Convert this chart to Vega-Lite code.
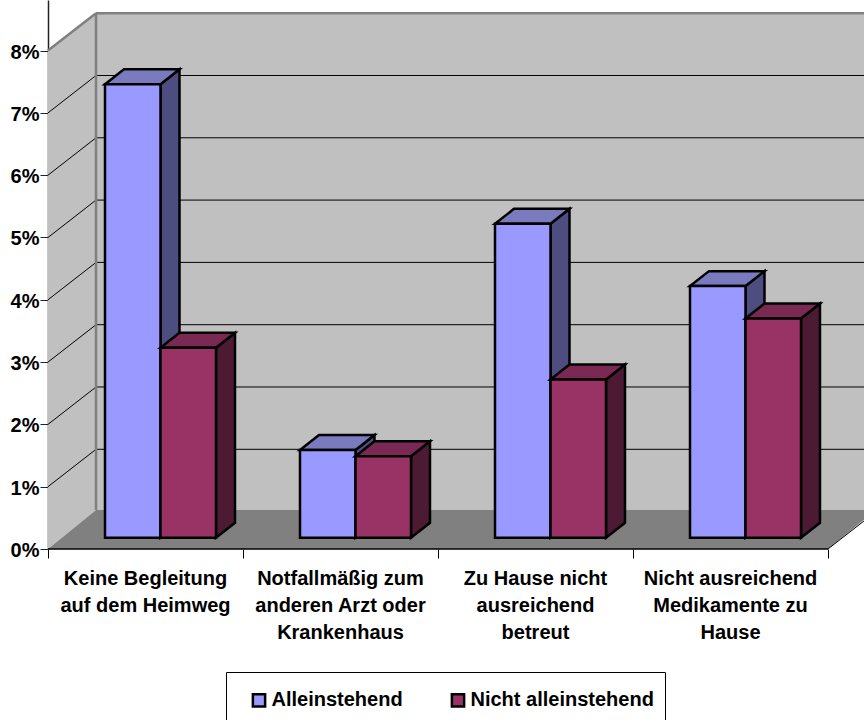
{
"$schema":"https://vega.github.io/schema/vega-lite/v6.json",
"width":816,"height":549,"autosize":"none",
"padding":{"left":48,"top":0,"right":0,"bottom":171},
"background":"white",
"config":{"view":{"stroke":null},"font":"Liberation Sans"},
"datasets":{
"bars":[
{"category":"Keine Begleitung\nauf dem Heimweg","series":"Alleinstehend","value":7.28},
{"category":"Keine Begleitung\nauf dem Heimweg","series":"Nicht alleinstehend","value":3.05},
{"category":"Notfallmäßig zum\nanderen Arzt oder\nKrankenhaus","series":"Alleinstehend","value":1.41},
{"category":"Notfallmäßig zum\nanderen Arzt oder\nKrankenhaus","series":"Nicht alleinstehend","value":1.31},
{"category":"Zu Hause nicht\nausreichend\nbetreut","series":"Alleinstehend","value":5.04},
{"category":"Zu Hause nicht\nausreichend\nbetreut","series":"Nicht alleinstehend","value":2.54},
{"category":"Nicht ausreichend\nMedikamente zu\nHause","series":"Alleinstehend","value":4.04},
{"category":"Nicht ausreichend\nMedikamente zu\nHause","series":"Nicht alleinstehend","value":3.52}
],
"ticks":[{"tick":0},{"tick":1},{"tick":2},{"tick":3},{"tick":4},{"tick":5},{"tick":6},{"tick":7},{"tick":8}],
"depth":[{"depth":0},{"depth":1}]
},
"layer":[
{"data":{"name":"depth"},
 "transform":[{"calculate":"datum.depth*0.2462","as":"wx"},{"calculate":"datum.depth*0.625","as":"wy"},{"calculate":"8+datum.depth*0.6","as":"wy2"},{"calculate":"4+datum.depth*0.2462","as":"wx2"}],
 "layer":[
 {"mark":{"type":"area","fill":"#C0C0C0","clip":true},
  "encoding":{"x":{"field":"wx","type":"quantitative","scale":{"domain":[0,4.1846],"nice":false,"zero":false},
     "axis":{"values":[0,1,2,3,4],"labels":false,"domain":false,"grid":false,"title":null,"tickSize":9,"tickColor":"black","tickWidth":1}},
   "y":{"field":"wy","type":"quantitative","scale":{"domain":[0,8.812],"nice":false,"zero":false},
     "axis":{"values":[0,1,2,3,4,5,6,7,8],"labelExpr":"datum.value+'%'","title":null,"grid":false,"domain":true,"domainColor":"#222222","domainWidth":1.5,"tickSize":8,"tickColor":"#222222","tickWidth":1,"labelPadding":1,"labelOffset":1.5,"labelFont":"Liberation Sans","labelFontWeight":"bold","labelFontSize":20,"labelColor":"black"}},
   "y2":{"field":"wy2"}}},
 {"mark":{"type":"rect","fill":"#C0C0C0","clip":true},
  "encoding":{"x":{"datum":0.2462,"type":"quantitative"},"x2":{"datum":4.1846},"y":{"datum":0.625,"type":"quantitative"},"y2":{"datum":8.6}}},
 {"mark":{"type":"area","orient":"horizontal","fill":"#808080","clip":false},
  "encoding":{"y":{"field":"wy","type":"quantitative"},"x":{"field":"wx","type":"quantitative"},"x2":{"field":"wx2"}}}
 ]},
{"data":{"name":"ticks"},
 "layer":[
 {"mark":{"type":"rule","stroke":"black","strokeWidth":1,"x2Offset":0,"y2Offset":-37.4},
  "transform":[{"filter":"datum.tick>0 && datum.tick<8"}],
  "encoding":{"x":{"datum":0,"type":"quantitative"},"x2":{"datum":0.2462},"y":{"field":"tick","type":"quantitative"},"y2":{"field":"tick"}}},
 {"mark":{"type":"rule","stroke":"black","strokeWidth":1,"yOffset":-37.4},
  "transform":[{"filter":"datum.tick>0 && datum.tick<8"}],
  "encoding":{"x":{"datum":0.2462,"type":"quantitative"},"x2":{"datum":4.1846},"y":{"field":"tick","type":"quantitative"}}},
 {"mark":{"type":"rule","stroke":"#808080","strokeWidth":2.5,"y2Offset":-37.4},
  "transform":[{"filter":"datum.tick==8"}],
  "encoding":{"x":{"datum":0,"type":"quantitative"},"x2":{"datum":0.2462},"y":{"field":"tick","type":"quantitative"},"y2":{"field":"tick"}}},
 {"mark":{"type":"rule","stroke":"#808080","strokeWidth":2.5,"yOffset":-37.4},
  "transform":[{"filter":"datum.tick==8"}],
  "encoding":{"x":{"datum":0.2462,"type":"quantitative"},"x2":{"datum":4.1846},"y":{"field":"tick","type":"quantitative"}}},
 {"mark":{"type":"rule","stroke":"#808080","strokeWidth":2.5},
  "transform":[{"filter":"datum.tick==8"}],
  "encoding":{"x":{"datum":0.2462,"type":"quantitative"},"y":{"datum":0.625,"type":"quantitative"},"y2":{"datum":8.6}}},
 {"mark":{"type":"rule","stroke":"black","strokeWidth":1.5},
  "transform":[{"filter":"datum.tick==0"}],
  "encoding":{"x":{"datum":0,"type":"quantitative"},"x2":{"datum":4},"y":{"field":"tick","type":"quantitative"}}},
 {"mark":{"type":"rule","stroke":"black","strokeWidth":1,"y2Offset":-37.4,"clip":true},
  "transform":[{"filter":"datum.tick==0"}],
  "encoding":{"x":{"datum":4,"type":"quantitative"},"x2":{"datum":4.2462},"y":{"field":"tick","type":"quantitative"},"y2":{"field":"tick"}}}
 ]},
{"data":{"name":"bars"},
 "transform":[
 {"calculate":"indexof(['Keine Begleitung\\nauf dem Heimweg','Notfallmäßig zum\\nanderen Arzt oder\\nKrankenhaus','Zu Hause nicht\\nausreichend\\nbetreut','Nicht ausreichend\\nMedikamente zu\\nHause'],datum.category)","as":"c"},
 {"calculate":"datum.series=='Alleinstehend'?0:1","as":"s"},
 {"calculate":"[0,1]","as":"t"},
 {"flatten":["t"]},
 {"calculate":"datum.c+0.2923+datum.s*0.2846","as":"x0"},
 {"calculate":"datum.x0+0.2846","as":"x1"},
 {"calculate":"0.18+datum.t*0.24","as":"ybase"},
 {"calculate":"0.18+datum.value+datum.t*0.24","as":"ytop"},
 {"calculate":"datum.x0+datum.t*0.0974","as":"xa"},
 {"calculate":"datum.x1+datum.t*0.0974","as":"xb"}
 ],
 "layer":[
 {"transform":[{"filter":"datum.s==0"}],"mark":{"type":"area","fill":"#4D4D80","stroke":"black","strokeWidth":2.5},
  "encoding":{"x":{"field":"xb","type":"quantitative"},"y":{"field":"ytop","type":"quantitative"},"y2":{"field":"ybase"},"detail":{"field":"category"}}},
 {"transform":[{"filter":"datum.s==0"}],"mark":{"type":"area","orient":"horizontal","fill":"#7A7ABF","stroke":"black","strokeWidth":2.5},
  "encoding":{"y":{"field":"ytop","type":"quantitative"},"x":{"field":"xa","type":"quantitative"},"x2":{"field":"xb"},"detail":{"field":"category"}}},
 {"transform":[{"filter":"datum.s==0 && datum.t==0"}],"mark":{"type":"rect","stroke":"black","strokeWidth":2.5},
  "encoding":{"x":{"field":"x0","type":"quantitative"},"x2":{"field":"x1"},"y":{"field":"ytop","type":"quantitative"},"y2":{"field":"ybase"},
   "fill":{"field":"series","type":"nominal","scale":{"domain":["Alleinstehend","Nicht alleinstehend"],"range":["#9999FF","#993366"]},
    "legend":{"orient":"none","legendX":178,"legendY":672,"direction":"horizontal","columns":2,"title":" ","titleFontSize":5,"titlePadding":2,"symbolType":"square","symbolSize":150,"symbolStrokeColor":"black","symbolStrokeWidth":2.5,"symbolOffset":12,"labelOffset":2.5,"columnPadding":33,"padding":11,"strokeColor":"black","fillColor":"white","labelFont":"Liberation Sans","labelFontWeight":"bold","labelFontSize":20,"labelColor":"black","labelLimit":300,"rowPadding":0}}}},
 {"transform":[{"filter":"datum.s==1"}],"mark":{"type":"area","fill":"#4D1A33","stroke":"black","strokeWidth":2.5},
  "encoding":{"x":{"field":"xb","type":"quantitative"},"y":{"field":"ytop","type":"quantitative"},"y2":{"field":"ybase"},"detail":{"field":"category"}}},
 {"transform":[{"filter":"datum.s==1"}],"mark":{"type":"area","orient":"horizontal","fill":"#7A2952","stroke":"black","strokeWidth":2.5},
  "encoding":{"y":{"field":"ytop","type":"quantitative"},"x":{"field":"xa","type":"quantitative"},"x2":{"field":"xb"},"detail":{"field":"category"}}},
 {"transform":[{"filter":"datum.s==1 && datum.t==0"}],"mark":{"type":"rect","stroke":"black","strokeWidth":2.5},
  "encoding":{"x":{"field":"x0","type":"quantitative"},"x2":{"field":"x1"},"y":{"field":"ytop","type":"quantitative"},"y2":{"field":"ybase"},
   "fill":{"field":"series","type":"nominal"}}},
 {"transform":[{"filter":"datum.s==0 && datum.t==0"},{"calculate":"datum.c+0.5","as":"xc"}],
  "mark":{"type":"text","align":"center","baseline":"top","lineBreak":"\n","lineHeight":27,"dy":20,"font":"Liberation Sans","fontWeight":"bold","fontSize":20,"color":"black"},
  "encoding":{"x":{"field":"xc","type":"quantitative"},"y":{"datum":0,"type":"quantitative"},"text":{"field":"category"}}}
 ]}
]
}
